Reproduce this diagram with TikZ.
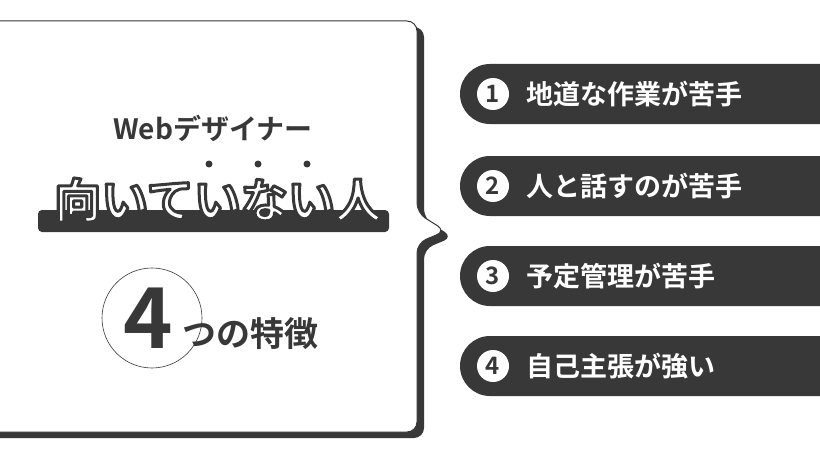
\documentclass[tikz,border=0pt]{standalone}
\usepackage{fontspec}
\newfontfamily\jp{Noto Sans CJK JP Bold}
\definecolor{ink}{HTML}{383838}
\tikzset{
  pill/.style={fill=ink, rounded corners=30},
  numdot/.style={circle, fill=white, minimum size=32, inner sep=0, font=\jp\fontsize{24}{24}\selectfont, text=ink},
  itemtext/.style={anchor=west, text=white, font=\jp\fontsize{27}{27}\selectfont, inner sep=0},
  heavy/.style={font=\jp\fontsize{47}{47}\selectfont, inner sep=0}
}
\newcommand\outlined[1]{\special{pdf:code q 2 Tr 3 w 1 j 0.22 0.22 0.22 RG}#1\special{pdf:code Q}}
\begin{document}
\begin{tikzpicture}[x=1pt, y=-1pt]
  \useasboundingbox (0,0) rectangle (820,460);
  % bubble shadow and bubble
  \fill [ink, rounded corners=10] (-20,27) -- (424,27) -- (424,219) -- (453,237) -- (424,249) -- (424,438) -- (-20,438) -- cycle;
  \draw [ink, fill=white, line width=1, rounded corners=10] (-20,21) -- (417,21) -- (417,213) -- (446,231) -- (417,243) -- (417,432) -- (-20,432) -- cycle;
  % title
  \node (role) [font=\jp\fontsize{28}{28}\selectfont, text=ink] at (213,128) {Webデザイナー};
  \foreach \x in {209,258,307}
    \fill [ink] (\x,164) circle (3.5);
  \fill [ink, rounded corners=4] (38,210) rectangle (389,232);
  \node (title) [heavy, text=white] at (218,200) {\outlined{向いていない人}};
  % four features
  \draw [ink, line width=0.6] (152,318) circle (50);
  \node (four) [font=\jp\fontsize{84}{84}\selectfont, text=ink, inner sep=0] at (148,318) {4};
  \node (feat) [anchor=west, font=\jp\fontsize{34}{34}\selectfont, text=ink, inner sep=0] at (182,334) {つの特徴};
  % items
  \foreach \y/\n/\t in {94/1/地道な作業が苦手, 186/2/人と話すのが苦手, 276/3/予定管理が苦手, 366/4/自己主張が強い} {
    \fill [pill] (460,\y-30) rectangle (860,\y+30);
    \node (num\n) [numdot] at (493,\y) {\n};
    \node (item\n) [itemtext] at (526,\y) {\t};
  }
\end{tikzpicture}
\end{document}
